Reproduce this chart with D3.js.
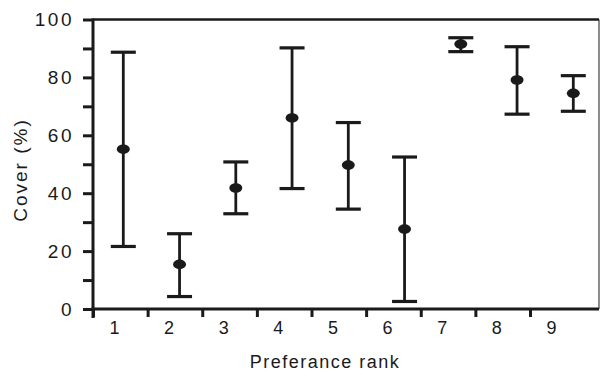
<!DOCTYPE html>
<html>
<head>
<meta charset="utf-8">
<script src="https://cdn.jsdelivr.net/npm/d3@7"></script>
<style>
  body { margin: 0; background: #fff; }
  text { font-family: 'Liberation Sans', Arial, sans-serif; fill: #1a1a1a; }
</style>
</head>
<body>
<div id="chart"></div>
<script>
// preference rank, mean cover and error bar limits (%)
var ranks = [1, 2, 3, 4, 5, 6, 7, 8, 9]
var means = [55.2, 15.4, 41.8, 66.0, 49.7, 27.6, 91.5, 79.1, 74.5]
var lows  = [21.6, 4.3, 32.9, 41.6, 34.5, 2.6, 88.9, 67.3, 68.3]
var highs = [88.7, 26.0, 50.8, 90.2, 64.4, 52.5, 93.7, 90.6, 80.6]
var yTicks = [0, 10, 20, 30, 40, 50, 60, 70, 80, 90, 100]

var data = ranks.map((r, i) => ({rank: r, mean: means[i], lo: lows[i], hi: highs[i]}))

var width = 600
var height = 376
var ink = '#1a1a1a'

var svg = d3.select('#chart')
	.append('svg')
	.attr('width', width)
	.attr('height', height)

var y = d3.scaleLinear()
	.domain([0, 100])
	.range([309, 19.5])

// points sit a little right of the tick labels
var x = d3.scaleLinear()
	.domain([1, 9])
	.range([123.3, 573.3])

// tick marks along the bottom
var xTick = d3.scaleLinear()
	.domain([1, 9])
	.range([93, 530])

// frame: top and right
svg.append('line')
	.attr('x1', 93).attr('x2', 599)
	.attr('y1', y(100)).attr('y2', y(100))
	.style('stroke', ink)
	.style('stroke-width', 2.5)

svg.append('line')
	.attr('x1', 599).attr('x2', 599)
	.attr('y1', y(100)).attr('y2', y(0))
	.style('stroke', ink)
	.style('stroke-width', 1)

// y axis
var yAxis = svg.append('g')
	.attr('transform', 'translate(93,0)')
	.call(d3.axisLeft(y)
		.tickValues(yTicks)
		.tickSize(10)
		.tickFormat(d => d % 20 === 0 ? d : ''))

yAxis.select('.domain').remove()
yAxis.append('line')
	.attr('x1', 0).attr('x2', 0)
	.attr('y1', y(100) - 1).attr('y2', y(0) + 9)
	.style('stroke', ink)
	.style('stroke-width', 3)
yAxis.selectAll('.tick line')
	.style('stroke', ink)
	.style('stroke-width', 3)
yAxis.selectAll('.tick text')
	.attr('x', -19)
	.style('font-size', '19px')
	.style('letter-spacing', '2.5px')
	.style('fill', ink)

// x axis
var xAxis = svg.append('g')
	.attr('transform', 'translate(0,' + y(0) + ')')
	.call(d3.axisBottom(xTick)
		.tickValues(ranks)
		.tickSize(8))

xAxis.select('.domain').remove()
xAxis.append('line')
	.attr('x1', 91.5).attr('x2', 599)
	.attr('y1', 0).attr('y2', 0)
	.style('stroke', ink)
	.style('stroke-width', 3)
xAxis.selectAll('.tick line')
	.style('stroke', ink)
	.style('stroke-width', 3)
xAxis.selectAll('.tick text')
	.attr('dx', 21)
	.attr('y', 12)
	.style('font-size', '18px')
	.style('fill', ink)

// axis titles
svg.append('text')
	.attr('x', 325)
	.attr('y', 368)
	.attr('text-anchor', 'middle')
	.style('font-size', '18px')
	.style('letter-spacing', '1.5px')
	.text('Preferance rank')

svg.append('text')
	.attr('transform', 'translate(27,' + y(48) + ') rotate(-90)')
	.attr('text-anchor', 'middle')
	.style('font-size', '19px')
	.style('letter-spacing', '2px')
	.text('Cover (%)')

// error bars
var bars = svg.append('g')
	.selectAll('g')
	.data(data)
	.enter()
	.append('g')

bars.append('line')
	.attr('x1', d => x(d.rank)).attr('x2', d => x(d.rank))
	.attr('y1', d => y(d.hi)).attr('y2', d => y(d.lo))
	.style('stroke', ink)
	.style('stroke-width', 2.8)

bars.append('line')
	.attr('x1', d => x(d.rank) - 12.5).attr('x2', d => x(d.rank) + 12.5)
	.attr('y1', d => y(d.hi)).attr('y2', d => y(d.hi))
	.style('stroke', ink)
	.style('stroke-width', 3.2)

bars.append('line')
	.attr('x1', d => x(d.rank) - 12.5).attr('x2', d => x(d.rank) + 12.5)
	.attr('y1', d => y(d.lo)).attr('y2', d => y(d.lo))
	.style('stroke', ink)
	.style('stroke-width', 3.2)

bars.append('ellipse')
	.attr('cx', d => x(d.rank))
	.attr('cy', d => y(d.mean))
	.attr('rx', 6.5)
	.attr('ry', 4.8)
	.style('fill', ink)
</script>
</body>
</html>
